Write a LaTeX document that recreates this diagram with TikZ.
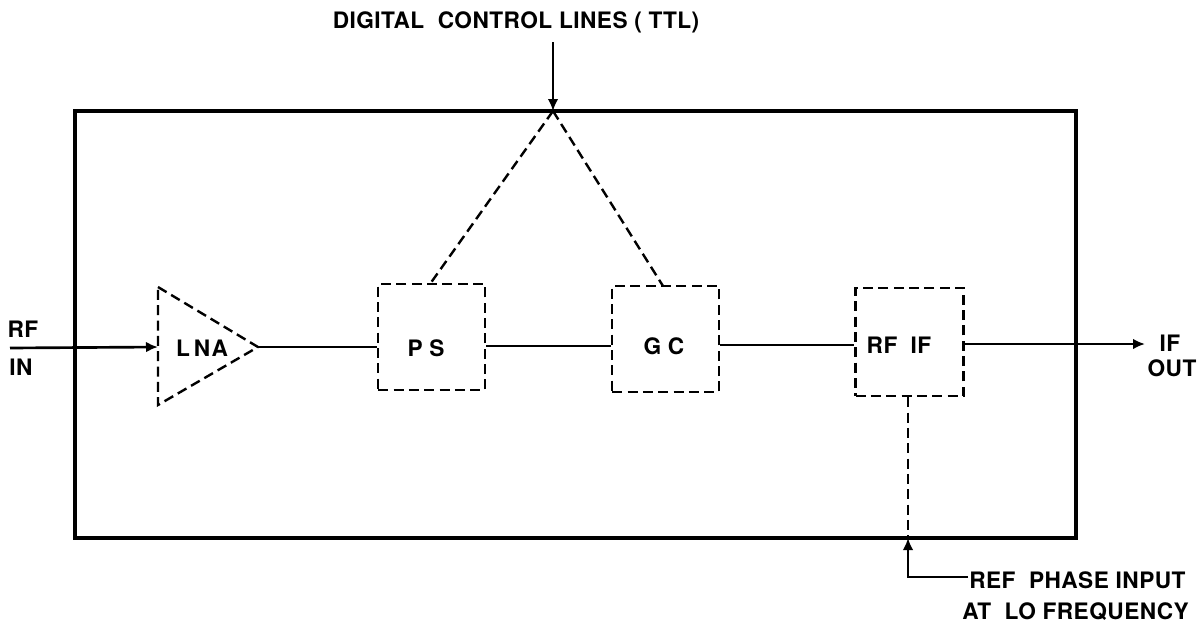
\documentclass[tikz,border=0pt]{standalone}
\usepackage{fontspec}
\setmainfont{TeX Gyre Heros}
\usetikzlibrary{arrows.meta}
\begin{document}
\begin{tikzpicture}[x=0.75pt,y=-0.75pt,
  lbl/.style={font=\bfseries\fontsize{17}{20}\selectfont\addfontfeature{LetterSpace=2}, inner sep=0pt},
  solidln/.style={line width=2pt},
  dashln/.style={line width=1.8pt, dash pattern=on 7.5pt off 4pt},
  arr/.style={solidln,-{Latex[length=9pt,width=8pt]}},
  blockbox/.style={dashln, draw, minimum width=80pt, minimum height=79.5pt, inner sep=0pt}]
\useasboundingbox (0,0) rectangle (1204,629);
% outer frame
\node (frame) [draw, line width=2.3pt, minimum width=750.75pt, minimum height=320.25pt, inner sep=0pt] at (575.5,324.5) {};
% top label
\node (ttllbl) [lbl] at (516,22) {DIGITAL\ \ CONTROL LINES ( TTL)};
\coordinate (ttl) at (553,42);
\coordinate (apex) at (553,111);
\draw[arr] (ttl) -- (apex);
% LNA triangle
\coordinate (lnaL) at (158,347);
\coordinate (lnaR) at (258,347);
\draw[dashln] (158,287) -- (lnaR) -- (158,405) -- cycle;
\node (lna) [lbl] at (202,348) {L\kern3pt N\kern1pt A};
% blocks
\node (PS) [blockbox] at (431.5,337) {};
\node (pslbl) [lbl] at (426,348) {P\kern5pt S};
\node (GC) [blockbox] at (665.5,339) {};
\node (gclbl) [lbl] at (664,346) {G\kern5pt C};
\node (RFIF) [blockbox, minimum width=81pt, minimum height=81pt] at (909.5,342) {};
\node (rfiflbl) [lbl] at (899,345) {RF\hspace{10pt}IF};
% control dashed lines
\draw[dashln] (apex) -- (430,284);
\draw[dashln] (apex) -- (663,286);
% RF IN
\coordinate (rfin) at (10,348);
\node (rflbl) [lbl] at (23,329) {RF};
\node (inlbl) [lbl] at (21,367) {IN};
\draw[arr] (rfin) -- (lnaL);
% chain
\draw[solidln] (lnaR) -- (PS.west |- lnaR);
\draw[solidln] (PS.east |- 0,346) -- (GC.west |- 0,346);
\draw[solidln] (GC.east |- 0,345) -- (RFIF.west |- 0,345);
% IF OUT
\coordinate (ifout) at (1145,344);
\draw[arr] (RFIF.east |- ifout) -- (ifout);
\node (iflbl) [lbl] at (1170,343) {IF};
\node (outlbl) [lbl] at (1172,368) {OUT};
% REF phase input
\coordinate (refin) at (908,538);
\coordinate (refc) at (908,577);
\coordinate (refend) at (968,577);
\draw[dashln] (RFIF.south -| refin) -- (refin);
\draw[arr] (refend) -- (refc) -- (refin);
\node (ref1) [lbl, anchor=west] at (969,580) {REF\ \ PHASE INPUT};
\node (ref2) [lbl, anchor=west] at (962,612) {AT\ \ LO FREQUENCY};
\end{tikzpicture}
\end{document}
